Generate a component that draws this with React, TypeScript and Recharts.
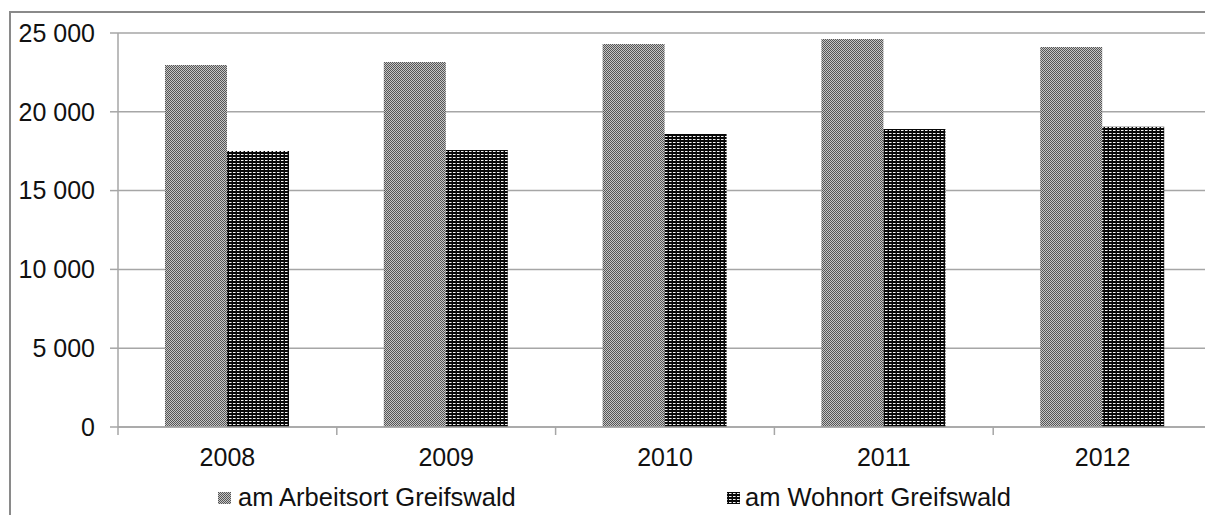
import React from "react";
import { BarChart, Bar, XAxis, YAxis, CartesianGrid } from "recharts";

const years = ["2008", "2009", "2010", "2011", "2012"];
const arbeitsort = [22970, 23160, 24300, 24620, 24110];
const wohnort = [17510, 17580, 18590, 18910, 19050];
const seriesNames = ["am Arbeitsort Greifswald", "am Wohnort Greifswald"];
const yTicks = [0, 5000, 10000, 15000, 20000, 25000];

const data = years.map((y, i) => ({ year: y, a: arbeitsort[i], w: wohnort[i] }));

const FONT = "'Liberation Sans', Arial, sans-serif";
const GRID = "#a6a6a6";

const fmt = (v: number) => {
  const s = String(Math.round(v));
  return s.replace(/\B(?=(\d{3})+(?!\d))/g, " ");
};

const XTick = (props: any) => {
  const { x, y, payload } = props;
  const off = payload && payload.offset != null ? payload.offset : 0;
  const axisY = y - 8 - 13;
  return (
    <g>
      <line x1={x - off} x2={x - off} y1={axisY} y2={axisY + 8} stroke={GRID} strokeWidth={1.5} />
      <text x={x} y={y} dy="0.71em" textAnchor="middle" fontFamily={FONT} fontSize={25} fill="#111">
        {payload.value}
      </text>
    </g>
  );
};

const Patterns = ({ prefix }: { prefix: string }) => (
  <defs>
    <pattern id={prefix + "A"} width={2} height={2} patternUnits="userSpaceOnUse">
      <rect width={2} height={2} fill="#c6c6c6" />
      <rect x={0} y={0} width={1} height={1} fill="#555" />
      <rect x={1} y={1} width={1} height={1} fill="#555" />
    </pattern>
    <pattern id={prefix + "B"} width={4} height={3} patternUnits="userSpaceOnUse">
      <rect width={4} height={3} fill="#080808" />
      <rect x={1} y={1} width={2} height={1} fill="#f4f4f4" />
      <rect x={3} y={1} width={1} height={1} fill="#888" />
    </pattern>
  </defs>
);

export default function App() {
  return (
    <div style={{ position: "fixed", left: 0, top: 0, width: 1205, height: 515, overflow: "hidden", background: "#fff" }}>
      <div
        style={{
          position: "absolute",
          left: 9,
          top: 11,
          width: 1260,
          height: 560,
          borderLeft: "2px solid #8a8a8a",
          borderTop: "2px solid #8a8a8a",
          boxSizing: "border-box",
        }}
      />
      <div style={{ position: "absolute", left: 0, top: 0 }}>
        <BarChart
          width={1230}
          height={515}
          data={data}
          margin={{ top: 33, right: 18, bottom: 0, left: 0 }}
          barCategoryGap={47}
          barGap={0}
        >
          <Patterns prefix="pc" />
          <CartesianGrid vertical={false} stroke={GRID} strokeWidth={1.5} />
          <XAxis
            dataKey="year"
            height={88}
            tickSize={8}
            tickMargin={13}
            tickLine={false}
            axisLine={{ stroke: GRID, strokeWidth: 1.5 }}
            tick={<XTick />}
            interval={0}
          />
          <YAxis
            width={118}
            domain={[0, 25000]}
            ticks={yTicks}
            tickSize={8}
            tickMargin={15}
            tickFormatter={fmt}
            axisLine={{ stroke: GRID, strokeWidth: 1.5 }}
            tickLine={{ stroke: GRID, strokeWidth: 1.5 }}
            tick={{ fontFamily: FONT, fontSize: 25, fill: "#111" }}
          />
          <Bar dataKey="a" name={seriesNames[0]} fill="url(#pcA)" isAnimationActive={false} />
          <Bar dataKey="w" name={seriesNames[1]} fill="url(#pcB)" isAnimationActive={false} />
        </BarChart>
      </div>
      <svg width={1205} height={515} style={{ position: "absolute", left: 0, top: 0, pointerEvents: "none" }}>
        <Patterns prefix="lg" />
        <rect x={218} y={492} width={13} height={12} fill="url(#lgA)" />
        <text x={238} y={506} fontFamily={FONT} fontSize={25.5} fill="#111">
          {seriesNames[0]}
        </text>
        <rect x={727} y={492} width={13} height={12} fill="url(#lgB)" />
        <text x={745} y={506} fontFamily={FONT} fontSize={25.5} fill="#111">
          {seriesNames[1]}
        </text>
      </svg>
    </div>
  );
}
